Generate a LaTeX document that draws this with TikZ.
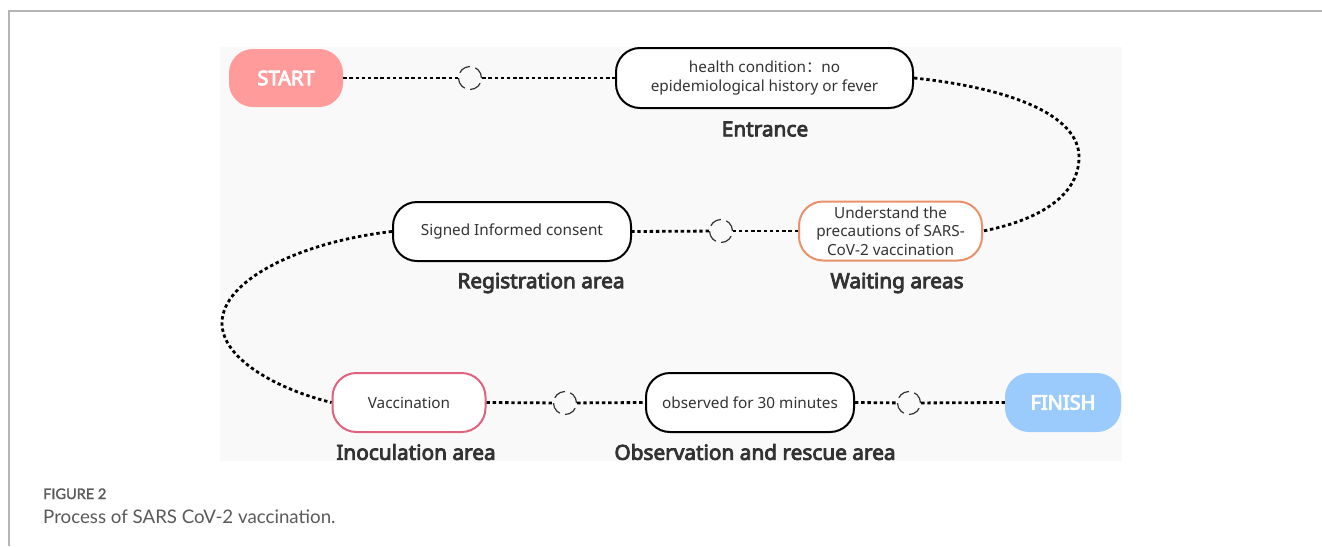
\documentclass[tikz,border=0pt]{standalone}
\usepackage{fontspec}
\setmainfont{Noto Sans}
\newfontfamily\boldf{Noto Sans}[FakeBold=4]
\newfontfamily\capfont{Lato}
\newfontfamily\capboldf{Lato}[FakeBold=1.8]
\newfontfamily\cjk{Noto Sans CJK SC}
\definecolor{framecol}{HTML}{B5B5B5}
\definecolor{panelcol}{HTML}{F9F9F9}
\definecolor{startcol}{HTML}{FF9B9B}
\definecolor{fincol}{HTML}{9ACBFC}
\definecolor{waitcol}{HTML}{E8916B}
\definecolor{inoccol}{HTML}{E0627E}
\definecolor{txtcol}{HTML}{333333}
\definecolor{capcol}{HTML}{5A5A5A}
\begin{document}
\begin{tikzpicture}[x=1pt,y=-1pt,
  endbox/.style={rectangle, rounded corners=24pt, draw=none, text=white, inner sep=0pt,
    font=\boldf\fontsize{20}{22}\selectfont},
  stepbox/.style={rectangle, rounded corners=24pt, draw=black, line width=2pt, fill=white,
    inner sep=0pt, align=center, text=txtcol, font=\fontsize{15.3}{18.3}\selectfont},
  lbl/.style={text=txtcol, inner sep=0pt, font=\boldf\fontsize{20.8}{22}\selectfont},
  dcirc/.style={circle, minimum size=23pt, inner sep=0pt, draw=black!80, line width=1.2pt,
    dash pattern=on 12.5pt off 5.5pt},
  dots/.style={draw=black, line width=2.8pt, dash pattern=on 3.4pt off 2.8pt}
]
\useasboundingbox (0,0) rectangle (1322,546);
\fill[white] (0,0) rectangle (1322,546);
\draw[framecol, line width=1.6pt] (9,546) -- (9,11) -- (1322,11);
\fill[panelcol] (220,47) rectangle (1122,461);

% nodes
\node[endbox, fill=startcol, minimum width=114pt, minimum height=58pt] (start) at (286,78) {START};
\node[stepbox, minimum width=297pt, minimum height=60pt] (ent) at (764.5,78)
  {health condition{\cjk ：}no\\epidemiological history or fever};
\node[lbl] (entl) at (765,129) {Entrance};

\node[stepbox, draw=waitcol, minimum width=183pt, minimum height=59pt] (wait) at (890.5,231)
  {Understand the\\precautions of SARS-\\CoV-2 vaccination};
\node[lbl] (waitl) at (897,283) {Waiting areas};

\node[stepbox, minimum width=238pt, minimum height=59pt] (reg) at (512,231.5)
  {Signed Informed consent};
\node[lbl] (regl) at (541,283) {Registration area};

\node[stepbox, draw=inoccol, minimum width=153pt, minimum height=59pt] (inoc) at (409,402.5)
  {Vaccination};
\node[lbl] (inocl) at (416,452) {Inoculation area};

\node[stepbox, minimum width=208pt, minimum height=59pt] (obs) at (750,402.5)
  {observed for 30 minutes};
\node[lbl] (obsl) at (755,452) {Observation and rescue area};

\node[endbox, fill=fincol, minimum width=116pt, minimum height=59pt] (fin) at (1063,402.5) {FINISH};

% dashed circles
\node[dcirc] (c1) at (470,78) {};
\node[dcirc] (c2) at (721,231) {};
\node[dcirc] (c3) at (565,403) {};
\node[dcirc] (c4) at (909,403) {};

\coordinate (rb) at (1079,157);
\coordinate (lb) at (222,323);

% connectors
\draw[dots] (start.east) -- (c1);
\draw[dots] (c1) -- (ent.west);
\draw[dots] (ent.east) .. controls (1010,88) and (1079,115) .. (rb)
  .. controls (1079,200) and (1030,222) .. (wait.east);
\draw[dots] (wait.west) -- (c2);
\draw[dots] (c2) -- (reg.east);
\draw[dots] (reg.west) .. controls (300,242) and (222,280) .. (lb)
  .. controls (222,360) and (280,390) .. (inoc.west);
\draw[dots] (inoc.east) -- (c3);
\draw[dots] (c3) -- (obs.west);
\draw[dots] (obs.east) -- (c4);
\draw[dots] (c4) -- (fin.west);

% caption
\node[anchor=base west, inner sep=0pt, text=capcol, font=\capboldf\fontsize{14.5}{16}\selectfont] (cap1) at (43,499) {FIGURE 2};
\node[anchor=base west, inner sep=0pt, text=capcol, font=\capfont\fontsize{18.7}{20}\selectfont] (cap2) at (43,523) {Process of SARS CoV-2 vaccination.};
\end{tikzpicture}
\end{document}
